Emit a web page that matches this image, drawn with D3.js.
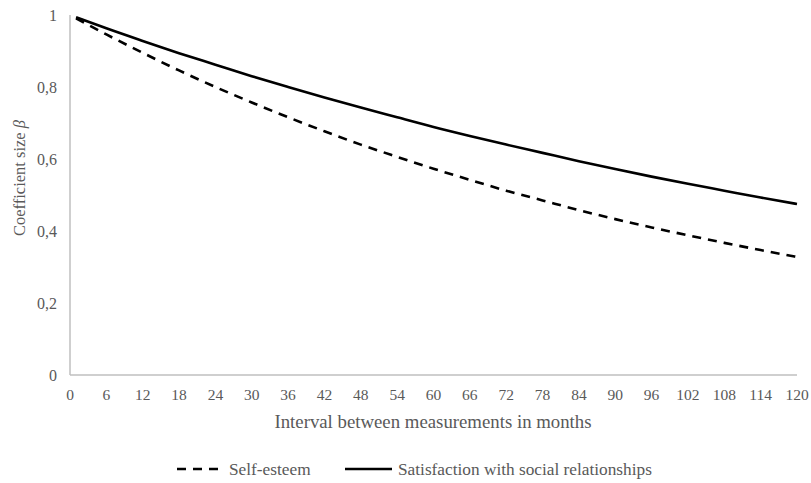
<!DOCTYPE html>
<html><head><meta charset="utf-8">
<script src="https://cdn.jsdelivr.net/npm/d3@7"></script>
<style>body{margin:0;background:#fff}svg{display:block}</style>
</head><body>
<svg id="c" width="811" height="483"></svg>
<script>
const months = [1,6,12,18,24,30,36,42,48,54,60,66,72,78,84,90,96,102,108,114,120];
const selfEsteem = [0.991,0.946,0.895,0.846,0.800,0.757,0.716,0.677,0.640,0.606,0.573,0.542,0.512,0.485,0.458,0.433,0.410,0.388,0.367,0.347,0.328];
const satisfaction = [0.994,0.963,0.928,0.894,0.862,0.830,0.800,0.771,0.743,0.716,0.689,0.664,0.640,0.617,0.594,0.572,0.551,0.531,0.512,0.493,0.475];
const xTicks = d3.range(0,121,6);
const yTicks = [0,0.2,0.4,0.6,0.8,1];
const seriesNames = ["Self-esteem","Satisfaction with social relationships"];

const svg = d3.select("#c");
const font = "'Liberation Serif', 'Times New Roman', serif";
const x = d3.scaleLinear().domain([0,120]).range([70,797]);
const y = d3.scaleLinear().domain([0,1]).range([375,15]);
const textCol = "#595959";

// axes lines
svg.append("line").attr("x1",x(0)).attr("x2",x(120)).attr("y1",y(0)).attr("y2",y(0)).attr("stroke","#bfbfbf").attr("stroke-width",1.5);
svg.append("line").attr("x1",x(0)).attr("x2",x(0)).attr("y1",y(0)).attr("y2",y(1)).attr("stroke","#bfbfbf").attr("stroke-width",1.5);

const fmt = d => d===0||d===1 ? String(d) : d3.format(".1f")(d).replace(".",",");
svg.append("g").selectAll("text").data(yTicks).join("text")
  .attr("x",57).attr("y",d=>y(d)).attr("dy","0.35em").attr("text-anchor","end")
  .attr("font-family",font).attr("font-size",16).attr("fill",textCol).text(fmt);
svg.append("g").selectAll("text").data(xTicks).join("text")
  .attr("x",d=>x(d)).attr("y",395).attr("dy","0.35em").attr("text-anchor","middle")
  .attr("font-family",font).attr("font-size",15.5).attr("fill",textCol).text(d=>d);

svg.append("text").attr("x",433).attr("y",421).attr("dy","0.35em").attr("text-anchor","middle")
  .attr("font-family",font).attr("font-size",18.8).attr("fill",textCol).text("Interval between measurements in months");
const yt = svg.append("text").attr("transform","translate(19,178) rotate(-90)").attr("text-anchor","middle").attr("dy","0.35em")
  .attr("font-family",font).attr("font-size",16.5).attr("fill",textCol);
yt.append("tspan").text("Coefficient size ");
yt.append("tspan").attr("font-style","italic").text("β");

const line = d3.line().x(d=>x(d[0])).y(d=>y(d[1])).curve(d3.curveMonotoneX);
svg.append("path").datum(months.map((m,i)=>[m,satisfaction[i]])).attr("d",line)
  .attr("fill","none").attr("stroke","#000").attr("stroke-width",2.6);
svg.append("path").datum(months.map((m,i)=>[m,selfEsteem[i]])).attr("d",line)
  .attr("fill","none").attr("stroke","#000").attr("stroke-width",2.6).attr("stroke-dasharray","9,7");

// legend
const lg = [{x1:177,x2:223,dash:"9,7",name:seriesNames[0]},{x1:345,x2:392,dash:null,name:seriesNames[1]}];
lg.forEach(l=>{
  svg.append("line").attr("x1",l.x1).attr("x2",l.x2).attr("y1",469).attr("y2",469)
    .attr("stroke","#000").attr("stroke-width",2.6).attr("stroke-dasharray",l.dash);
  svg.append("text").attr("x",l.x2+6).attr("y",469).attr("dy","0.35em")
    .attr("font-family",font).attr("font-size",17.3).attr("fill",textCol).text(l.name);
});
</script>
</body></html>
